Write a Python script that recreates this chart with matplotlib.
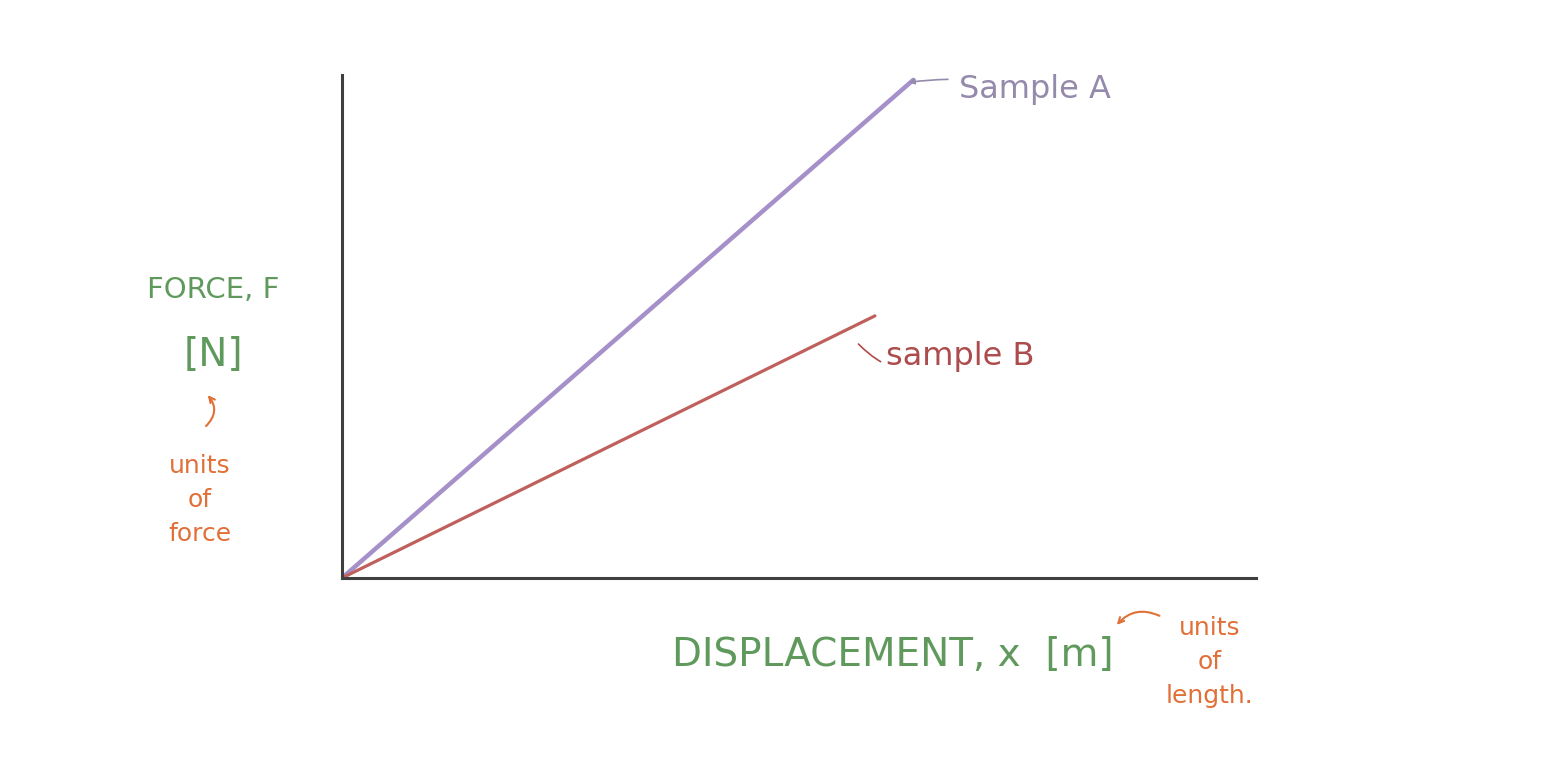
import matplotlib.pyplot as plt

# hand sketch: two straight force-displacement lines from the origin
displacement_a = [0, 6.25]
force_a = [0, 9.9]
displacement_b = [0, 5.83]
force_b = [0, 5.21]

label_a = "Sample A"
label_b = "sample B"
xlabel = "DISPLACEMENT, x  [m]"
ylabel = "FORCE, F"
yunit = "[N]"

purple = "#a590c9"
red = "#c0605c"
green = "#5f9a5c"
orange = "#e07038"

fig = plt.figure(figsize=(15.68, 7.6), dpi=100)
ax = fig.add_axes([0.2181, 0.2395, 0.583, 0.662])

ax.plot(displacement_a, force_a, color=purple, lw=3.2, solid_capstyle="round")
ax.plot(displacement_b, force_b, color=red, lw=2.3, solid_capstyle="round")

ax.set_xlim(0, 10)
ax.set_ylim(0, 10)
for side in ["top", "right"]:
    ax.spines[side].set_visible(False)
for side in ["left", "bottom"]:
    ax.spines[side].set_color("#3f3f3f")
    ax.spines[side].set_linewidth(2.2)
ax.set_xticks([])
ax.set_yticks([])

# line labels with small pointer strokes
ax.annotate(label_a, xy=(displacement_a[1] - 0.05, force_a[1] - 0.05),
            xytext=(6.75, 9.7), textcoords="data", fontsize=23,
            color="#958aab", va="center", ha="left",
            arrowprops=dict(arrowstyle="-|>", color="#958aab", lw=1.2,
                            connectionstyle="arc3,rad=0.1", shrinkA=6, shrinkB=0,
                            mutation_scale=8))
ax.annotate(label_b, xy=(5.65, 4.65), xytext=(5.95, 4.4), textcoords="data",
            fontsize=23, color="#ad4c4c", va="center", ha="left",
            arrowprops=dict(arrowstyle="-", color="#ad4c4c", lw=1.2,
                            connectionstyle="arc3,rad=-0.4", shrinkA=2, shrinkB=0))

# axis labels in the figure margins
fig.text(213 / 1568, 1 - 290 / 760, ylabel, color=green, fontsize=21,
         ha="center", va="center")
fig.text(213 / 1568, 1 - 355 / 760, yunit, color=green, fontsize=28,
         ha="center", va="center")
fig.text(200 / 1568, 1 - 500 / 760, "units\nof\nforce", color=orange,
         fontsize=18, ha="center", va="center", linespacing=1.55)
ax.annotate("", xy=(206 / 1568, 1 - 393 / 760), xytext=(204 / 1568, 1 - 428 / 760),
            xycoords="figure fraction", textcoords="figure fraction",
            arrowprops=dict(arrowstyle="->", color=orange, lw=1.5,
                            connectionstyle="arc3,rad=0.5"))

fig.text(893 / 1568, 1 - 655 / 760, xlabel, color=green, fontsize=28,
         ha="center", va="center")
fig.text(1210 / 1568, 1 - 662 / 760, "units\nof\nlength.", color=orange,
         fontsize=18, ha="center", va="center", linespacing=1.55)
ax.annotate("", xy=(1115 / 1568, 1 - 627 / 760), xytext=(1162 / 1568, 1 - 617 / 760),
            xycoords="figure fraction", textcoords="figure fraction",
            arrowprops=dict(arrowstyle="->", color=orange, lw=1.5,
                            connectionstyle="arc3,rad=0.4"))

fig.savefig("out.png", dpi=100, facecolor="white")
